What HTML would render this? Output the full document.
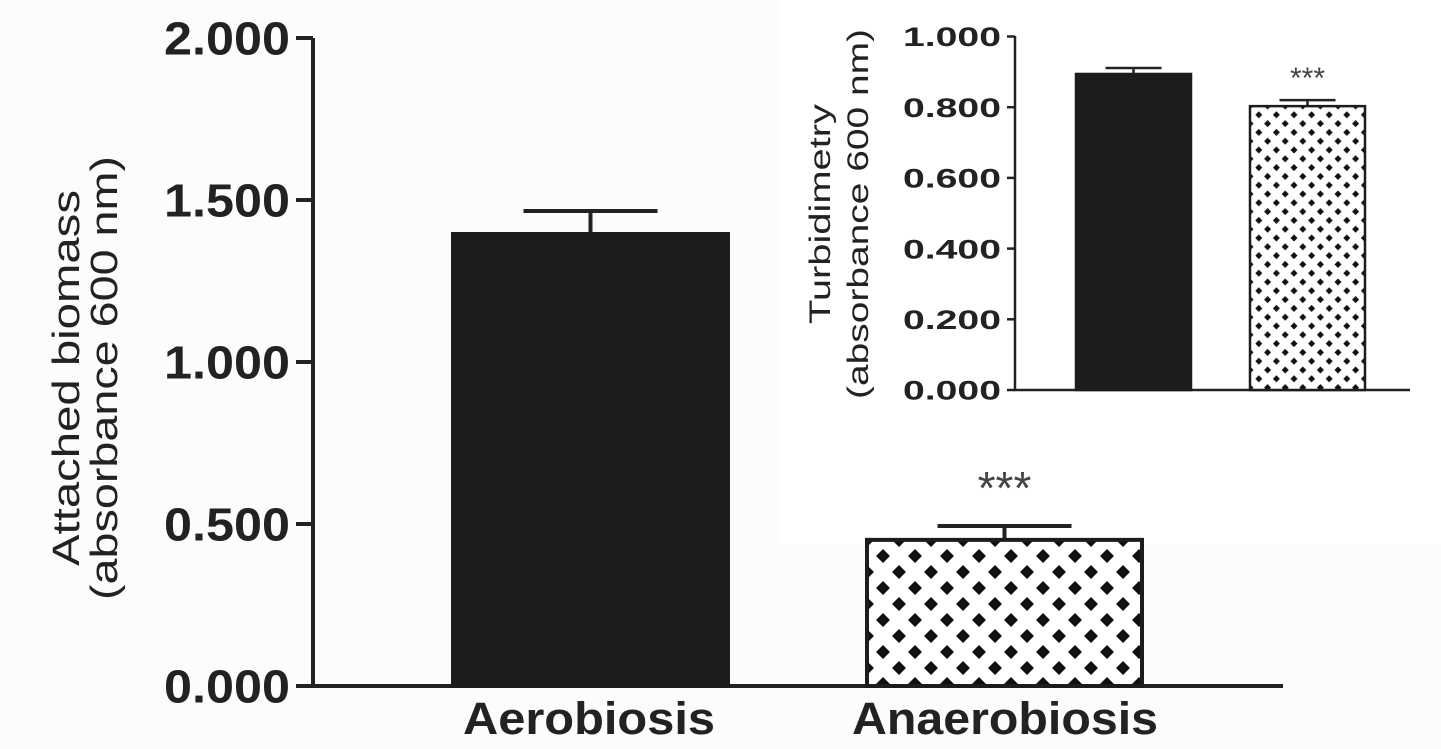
<!DOCTYPE html>
<html><head><meta charset="utf-8"><style>
html,body{margin:0;padding:0;background:#fcfcfc;}
svg{display:block;font-family:"Liberation Sans",sans-serif;}
</style></head><body>
<svg id="chart" width="1441" height="749" viewBox="0 0 1441 749" xmlns="http://www.w3.org/2000/svg">
<defs>
<pattern id="pm" patternUnits="userSpaceOnUse" width="32" height="32" x="867" y="540">
<rect width="32" height="32" fill="#fff"/>
<path d="M0,-7 L7,0 L0,7 L-7,0Z M32,-7 L39,0 L32,7 L25,0Z M0,25 L7,32 L0,39 L-7,32Z M32,25 L39,32 L32,39 L25,32Z M16,9 L23,16 L16,23 L9,16Z" fill="#111"/>
</pattern>
<pattern id="pi" patternUnits="userSpaceOnUse" width="17.6" height="17.6" x="1250" y="106">
<rect width="17.6" height="17.6" fill="#fff"/>
<path d="M0,-3.5 L3.5,0 L0,3.5 L-3.5,0Z M17.6,-3.5 L21.1,0 L17.6,3.5 L14.1,0Z M0,14.1 L3.5,17.6 L0,21.1 L-3.5,17.6Z M17.6,14.1 L21.1,17.6 L17.6,21.1 L14.1,17.6Z M8.8,5.3 L12.3,8.8 L8.8,12.3 L5.3,8.8Z" fill="#111"/>
</pattern>
</defs>
<rect x="780" y="0" width="661" height="545" fill="#fff"/>
<g id="main"></g>
<g id="inset"></g>
</svg>
<script>
const mainCategories = ["Aerobiosis", "Anaerobiosis"];
const mainValues = [1.395, 0.451];
const mainErrors = [0.071, 0.043];
const mainTicks = ["0.000", "0.500", "1.000", "1.500", "2.000"];
const mainTickVals = [0, 0.5, 1.0, 1.5, 2.0];
const insetValues = [0.894, 0.803];
const insetErrors = [0.017, 0.017];
const insetTicks = ["0.000", "0.200", "0.400", "0.600", "0.800", "1.000"];
const insetTickVals = [0, 0.2, 0.4, 0.6, 0.8, 1.0];

const NS = "http://www.w3.org/2000/svg";
function mk(parent, tag, attrs, text) {
  const e = document.createElementNS(NS, tag);
  for (const k in attrs) e.setAttribute(k, attrs[k]);
  if (text !== undefined) e.textContent = text;
  parent.appendChild(e);
  return e;
}
function drawChart(g, o) {
  const y = v => o.y0 - v * o.scale;
  const ax = mk(g, "path", {d: `M${o.ax},${o.top} V${o.y0} H${o.axEnd}`, stroke: "#222", "stroke-width": o.lw, fill: "none"});
  
  
  o.tickVals.forEach((v, i) => {
    const t = mk(g, "line", {x1: o.ax - o.tl, x2: o.ax, y1: y(v), y2: y(v), stroke: "#222", "stroke-width": o.lw});
    
    
    const l = mk(g, "text", {x: o.ax - o.tl - 6 - o.tlen, y: y(v) + o.fs * 0.36, "font-size": o.fs, "font-weight": "bold", fill: "#222", textLength: o.tlen, lengthAdjust: "spacingAndGlyphs"}, o.ticks[i]);
    
    
  });
  o.values.forEach((v, i) => {
    const x = o.barX[i];
    const cx = x + o.bw / 2;
    const eTop = y(v + o.errors[i]);
    const ev = mk(g, "path", {d: `M${cx},${y(v)} V${eTop} M${cx - o.cap},${eTop} H${cx + o.cap}`, stroke: "#222", "stroke-width": o.lw, fill: "none"});
    
    
    const b = mk(g, "rect", {x: x, y: y(v), width: o.bw, height: o.y0 - y(v), fill: i === 0 ? "#1c1c1c" : o.pat, stroke: "#1c1c1c", "stroke-width": o.lw});
    
    
    if (i === 1) {
      const s = mk(g, "text", {x: cx, y: eTop - o.starGap, "text-anchor": "middle", "font-size": o.starFs, fill: "#444"}, "***");
      
      
    }
  });
}
const gm = document.getElementById("main");
drawChart(gm, {prefix: "main-", y0: 686, top: 38, scale: 324, ax: 313, axEnd: 1283, tl: 17, lw: 4, fs: 46, tlen: 126,
  ticks: mainTicks, tickVals: mainTickVals, values: mainValues, errors: mainErrors,
  barX: [453, 867], bw: 275, cap: 67, pat: "url(#pm)", starGap: 22, starFs: 46});
mainCategories.forEach((c, i) => {
  const t = mk(gm, "text", {x: [463, 852][i], y: 734, "font-size": 45, "font-weight": "bold", fill: "#222", textLength: [252, 306][i], lengthAdjust: "spacingAndGlyphs"}, c);
  
  
});
const yt = mk(gm, "text", {transform: "translate(79,378) rotate(-90)", "font-size": 38, fill: "#222"});


mk(yt, "tspan", {x: -188, y: 0, textLength: 376, lengthAdjust: "spacingAndGlyphs"}, "Attached biomass");
mk(yt, "tspan", {x: -222, y: 38, textLength: 444, lengthAdjust: "spacingAndGlyphs"}, "(absorbance 600 nm)");

const gi = document.getElementById("inset");
drawChart(gi, {prefix: "inset-", y0: 390, top: 36, scale: 353.5, ax: 1015, axEnd: 1410, tl: 8, lw: 2.5, fs: 27, tlen: 98,
  ticks: insetTicks, tickVals: insetTickVals, values: insetValues, errors: insetErrors,
  barX: [1076, 1250], bw: 115, cap: 28, pat: "url(#pi)", starGap: 12, starFs: 30});
const it = mk(gi, "text", {transform: "translate(830,214) rotate(-90)", "font-size": 30, fill: "#222"});


mk(it, "tspan", {x: -110, y: 0, textLength: 220, lengthAdjust: "spacingAndGlyphs"}, "Turbidimetry");
mk(it, "tspan", {x: -185, y: 38, textLength: 370, lengthAdjust: "spacingAndGlyphs"}, "(absorbance 600 nm)");
</script>
</body></html>
